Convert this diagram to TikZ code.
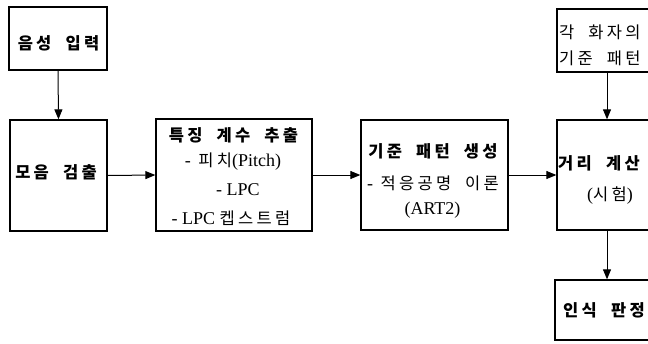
\documentclass[tikz,border=0pt]{standalone}
\usepackage{fontspec}
\setmainfont{Liberation Serif}
\newfontfamily\krfam[LetterSpace=20,WordSpace=2]{Noto Sans CJK KR}
\newcommand\kr{\krfam\fontsize{16.5}{20}\selectfont}
\usetikzlibrary{arrows.meta}
\begin{document}
\begin{tikzpicture}[x=1pt,y=-1pt,
  box/.style={draw, line width=1.3pt, inner sep=0pt},
  arr/.style={line width=1pt, -{Triangle[length=10pt,width=8pt]}},
  lbl/.style={inner sep=0pt, font=\fontsize{18}{20}\selectfont},
  blbl/.style={inner sep=0pt, font=\fontsize{18}{20}\selectfont\bfseries}]
\useasboundingbox (0,0) rectangle (648,343);
\clip (0,0) rectangle (648,343);
% boxes
\node[box, minimum width=98pt, minimum height=63pt] (in) at (58,38.5) {};
\node[box, minimum width=97pt, minimum height=111pt] (vow) at (58.5,175.5) {};
\node[box, minimum width=156pt, minimum height=112pt] (feat) at (234,175) {};
\node[box, minimum width=147pt, minimum height=110pt] (ref) at (434.5,175) {};
\node[box, minimum width=100pt, minimum height=110pt] (dist) at (607,175) {};
\node[box, minimum width=100pt, minimum height=63pt] (spk) at (607,40.5) {};
\node[box, minimum width=104pt, minimum height=60pt] (dec) at (607,310) {};
% texts
\node[blbl] (t1) at (58.5,43) {\kr 음성 입력};
\node[blbl] (t2) at (56,172) {\kr 모음 검출};
\node[blbl] (t3a) at (233.5,135) {\kr 특징 계수 추출};
\node[lbl] (t3b) at (233,162) {- \,{\kr 피치}(Pitch)};
\node[lbl] (t3c) at (238,190) {- LPC};
\node[lbl] (t3d) at (231,218) {- LPC {\kr 켑스트럼}};
\node[blbl] (t4a) at (433,151) {\kr 기준 패턴 생성};
\node[lbl] (t4b) at (433,183) {- \,{\kr 적응공명 이론}};
\node[lbl] (t4c) at (432.5,210) {(ART2)};
\node[blbl, anchor=west] (t5a) at (558,163) {\kr 거리 계산};
\node[lbl] (t5b) at (610,196) {({\kr 시험})};
\node[lbl, anchor=west] (t6a) at (559,32) {\kr 각 화자의};
\node[lbl, anchor=west] (t6b) at (559,58) {\kr 기준 패턴};
\node[blbl, anchor=west] (t7) at (563,310) {\kr 인식 판정};
% arrows
\draw[arr] (in.south) -- (vow.north);
\draw[arr] (vow.east) -- (feat.west);
\draw[arr] (feat.east) -- (ref.west);
\draw[arr] (ref.east) -- (dist.west);
\draw[arr] (spk.south) -- (dist.north);
\draw[arr] (dist.south) -- (dec.north);
\end{tikzpicture}
\end{document}
